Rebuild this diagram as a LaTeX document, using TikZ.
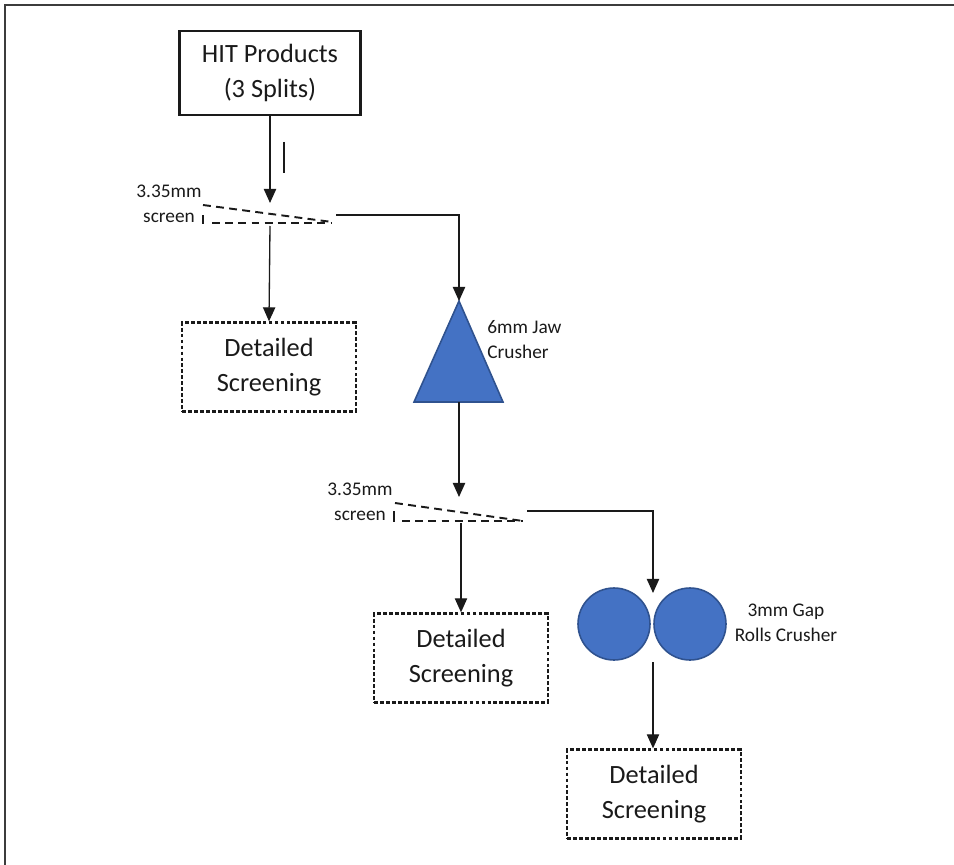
\documentclass[tikz,border=0pt]{standalone}
\usepackage{fontspec}
\setmainfont{Carlito}
\usetikzlibrary{arrows.meta}
\definecolor{rollblue}{HTML}{4472C4}
\definecolor{rolledge}{HTML}{2F528F}
\definecolor{ink}{HTML}{1A1A1A}
\tikzset{
  unit/.style={draw=ink, text=ink, line width=1.3pt, align=center, inner sep=0pt,
    font=\fontsize{15}{20}\selectfont},
  feedbox/.style={unit, minimum width=3.62cm, minimum height=1.68cm},
  detailbox/.style={unit, dash pattern=on 2.2pt off 1.2pt, minimum width=3.48cm, minimum height=1.78cm},
  tag/.style={text=ink, inner sep=0pt, font=\fontsize{11}{14.2}\selectfont},
  flow/.style={draw=ink, line width=0.75pt, -{Triangle[length=8pt,width=7pt]}},
  deck/.style={draw=ink, line width=1.1pt, dash pattern=on 4.5pt off 3pt},
  roll/.style={circle, draw=rolledge, fill=rollblue, line width=0.9pt, minimum size=1.44cm, inner sep=0pt}
}

\begin{document}
\begin{tikzpicture}[x=0.02cm, y=-0.02cm]
\useasboundingbox (0,0) rectangle (954,865);
\draw [ink!85, line width=1.5pt] (5,865) -- (5,5) -- (954,5);

\node [feedbox] (hit) at (270,73) {HIT Products\\(3 Splits)};
\draw [ink, line width=0.75pt] (284,142) -- (284,173);

% first screen
\coordinate (feedA) at (270,203);
\coordinate (underA) at (270,226);
\coordinate (overA) at (336,215);
\draw [deck] (203,205) -- (332,222);
\draw [deck] (212,223) -- (332,223);
\draw [ink, line width=0.9pt] (203,215) -- (203,224);
\node [tag, align=center] (scrA) at (169,204) {3.35mm\\screen};

\node [detailbox] (detA) at (269,367) {Detailed\\Screening};

% jaw crusher
\coordinate (jawtop) at (459,301);
\coordinate (jawbot) at (459,402);
\draw [rolledge, fill=rollblue, line width=0.9pt] (jawtop) -- (503,402) -- (414,402) -- cycle;
\node [tag, align=left, anchor=west] (jaw) at (487,340) {6mm Jaw\\Crusher};

% second screen
\coordinate (feedB) at (459,497);
\coordinate (underB) at (461,523);
\coordinate (overB) at (527,511);
\draw [deck] (395,503) -- (523,521);
\draw [deck] (402,521) -- (523,521);
\draw [ink, line width=0.9pt] (394,511) -- (394,522);
\node [tag, align=center] (scrB) at (360,502) {3.35mm\\screen};

\node [detailbox] (detB) at (461,658) {Detailed\\Screening};

% rolls crusher
\node [roll] (rollL) at (614,624) {};
\node [roll] (rollR) at (690,624) {};
\coordinate (rolltop) at (653,593);
\coordinate (rollbot) at (653,662);
\node [tag, align=center] (rolls) at (786,623) {3mm Gap\\Rolls Crusher};

\node [detailbox] (detC) at (654,794) {Detailed\\Screening};

\draw [flow] (hit.south) -- (feedA);
\draw [flow] (underA) -- (detA.north);
\draw [flow] (overA) -| (jawtop);
\draw [flow] (jawbot) -- (feedB);
\draw [flow] (underB) -- (detB.north);
\draw [flow] (overB) -| (rolltop);
\draw [flow] (rollbot) -- (rollbot |- detC.north);
\end{tikzpicture}
\end{document}
